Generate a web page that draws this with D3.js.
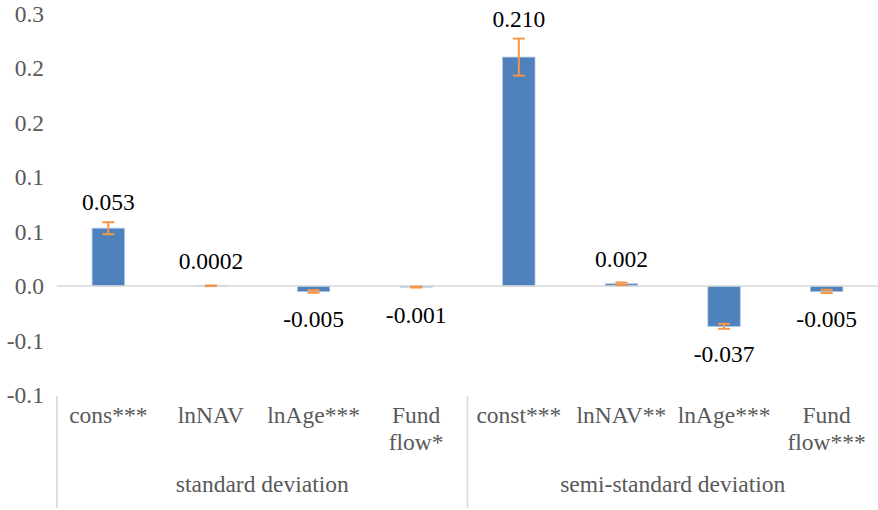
<!DOCTYPE html>
<html>
<head>
<meta charset="utf-8">
<script src="https://cdn.jsdelivr.net/npm/d3@7"></script>
<style>
  html, body { margin: 0; padding: 0; background: #fff; }
  svg { display: block; }
  text { font-family: "Liberation Serif", "Times New Roman", serif; }
</style>
</head>
<body>
<svg id="chart" width="878" height="510"></svg>
<script>
// ---- data ----
const categories = ["cons***", "lnNAV", "lnAge***", "Fund flow*", "const***", "lnNAV**", "lnAge***", "Fund flow***"];
const categoryLines = [["cons***"], ["lnNAV"], ["lnAge***"], ["Fund", "flow*"], ["const***"], ["lnNAV**"], ["lnAge***"], ["Fund", "flow***"]];
const groups = ["standard deviation", "semi-standard deviation"];
const groupSizes = [4, 4];
const values = [0.053, 0.0002, -0.005, -0.001, 0.210, 0.002, -0.037, -0.005];
const valueLabels = ["0.053", "0.0002", "-0.005", "-0.001", "0.210", "0.002", "-0.037", "-0.005"];
const errors = [0.0055, 0.0003, 0.0012, 0.0004, 0.017, 0.0012, 0.0023, 0.0015];
const tickValues = [0.25, 0.2, 0.15, 0.1, 0.05, 0, -0.05, -0.1];
const tickLabels = ["0.3", "0.2", "0.2", "0.1", "0.1", "0.0", "-0.1", "-0.1"];

// ---- layout ----
const svg = d3.select("#chart");
const mLeft = 57, mRight = 878, mTop = 13.5, mBottom = 395;
const fontSize = 23.5;
const serif = '"Liberation Serif", "Times New Roman", serif';

const x = d3.scaleBand().domain(d3.range(categories.length)).range([mLeft, mRight]).padding(0);
const y = d3.scaleLinear().domain([-0.1, 0.25]).range([mBottom, mTop]);
const barW = x.bandwidth() * 0.315;

// y axis
const yAxis = d3.axisLeft(y)
  .tickValues(tickValues)
  .tickSize(0)
  .tickPadding(13)
  .tickFormat((d, i) => tickLabels[i]);
const ya = svg.append("g").attr("transform", `translate(${mLeft},0)`).call(yAxis);
ya.attr("font-family", serif).attr("font-size", fontSize);
ya.select(".domain").remove();
ya.selectAll("text")
  .attr("fill", "#595959")
  .style("font-size", fontSize + "px")
  .style("font-family", serif);

// bars
svg.append("g").selectAll("rect")
  .data(values)
  .join("rect")
  .attr("x", (d, i) => x(i) + x.bandwidth() / 2 - barW / 2)
  .attr("width", barW)
  .attr("y", d => y(Math.max(0, d)))
  .attr("height", d => Math.abs(y(d) - y(0)))
  .attr("fill", "#4F81BD")
  .attr("stroke", "#a7bfe0")
  .attr("stroke-width", 0.8);

// zero line
svg.append("line")
  .attr("x1", mLeft).attr("x2", mRight)
  .attr("y1", y(0)).attr("y2", y(0))
  .attr("stroke", "#d9d9d9").attr("stroke-width", 1.6);

// error bars
const eg = svg.append("g").attr("stroke", "#F79646").attr("stroke-width", 2).attr("fill", "none");
const capW = 12;
values.forEach((v, i) => {
  const cx = x(i) + x.bandwidth() / 2;
  const y1 = y(v + errors[i]), y2 = y(v - errors[i]);
  eg.append("line").attr("x1", cx).attr("x2", cx).attr("y1", y1).attr("y2", y2);
  eg.append("line").attr("x1", cx - capW / 2).attr("x2", cx + capW / 2).attr("y1", y1).attr("y2", y1);
  eg.append("line").attr("x1", cx - capW / 2).attr("x2", cx + capW / 2).attr("y1", y2).attr("y2", y2);
});

// data labels
svg.append("g").selectAll("text")
  .data(values)
  .join("text")
  .attr("x", (d, i) => x(i) + x.bandwidth() / 2)
  .attr("y", (d, i) => d >= 0 ? Math.min(y(d) - 17, y(d + errors[i]) - 12) : y(d) + 35.5)
  .attr("text-anchor", "middle")
  .attr("fill", "#000")
  .style("font-size", fontSize + "px")
  .style("font-family", serif)
  .text((d, i) => valueLabels[i]);

// category labels
const cg = svg.append("g");
categoryLines.forEach((lines, i) => {
  const t = cg.append("text")
    .attr("x", x(i) + x.bandwidth() / 2)
    .attr("y", 423)
    .attr("text-anchor", "middle")
    .attr("fill", "#595959")
    .style("font-size", fontSize + "px")
    .style("font-family", serif);
  lines.forEach((ln, j) => {
    t.append("tspan").attr("x", x(i) + x.bandwidth() / 2).attr("dy", j === 0 ? 0 : 27).text(ln);
  });
});

// group labels and separators
let start = 0;
const sep = svg.append("g").attr("stroke", "#d9d9d9").attr("stroke-width", 1.6);
groups.forEach((g, gi) => {
  const end = start + groupSizes[gi];
  const gx0 = x(start), gx1 = x(end - 1) + x.bandwidth();
  svg.append("text")
    .attr("x", (gx0 + gx1) / 2)
    .attr("y", 492)
    .attr("text-anchor", "middle")
    .attr("fill", "#595959")
    .style("font-size", fontSize + "px")
    .style("font-family", serif)
    .text(g);
  sep.append("line").attr("x1", gx0).attr("x2", gx0).attr("y1", 396).attr("y2", 508);
  start = end;
});
</script>
</body>
</html>
